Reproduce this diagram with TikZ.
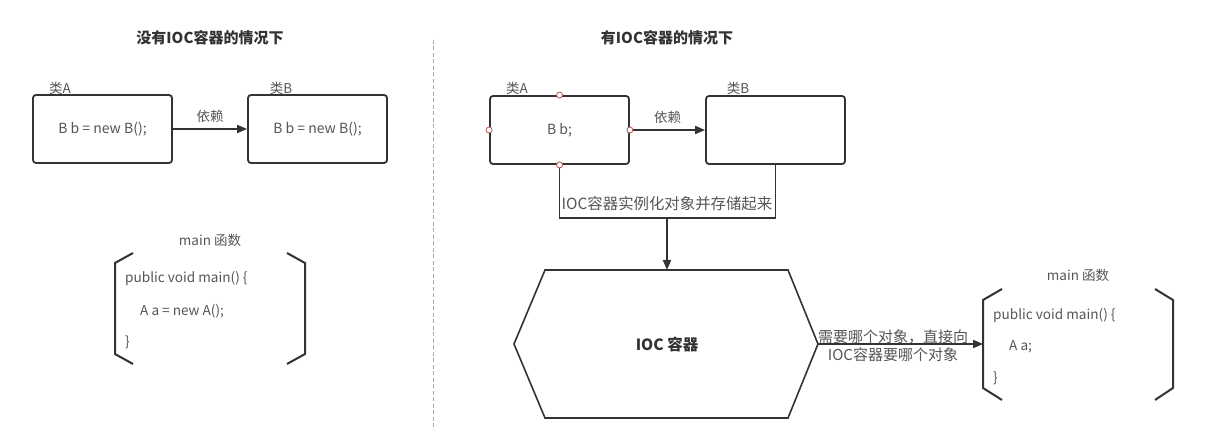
\documentclass[tikz,border=0pt]{standalone}
\usepackage{fontspec}
\setmainfont{Noto Sans CJK SC}
\usetikzlibrary{arrows.meta}
\definecolor{ink}{HTML}{333333}
\definecolor{txt}{HTML}{555555}
\definecolor{port}{HTML}{B85450}
\definecolor{divider}{HTML}{AAAAAA}
\begin{document}
\begin{tikzpicture}[x=1pt,y=-1pt,
  cls/.style={draw=ink,line width=1.8pt,rounded corners=3pt,fill=white,
    minimum width=139pt,minimum height=68pt,inner sep=0pt,
    font=\fontsize{14}{16}\selectfont,text=txt},
  tag/.style={inner sep=0pt,font=\fontsize{13.5}{15}\selectfont,text=txt},
  code/.style={inner sep=0pt,anchor=west,font=\fontsize{13.6}{15}\selectfont,text=txt},
  title/.style={inner sep=0pt,font=\fontsize{15}{17}\selectfont\bfseries,text=ink},
  edgelabel/.style={inner sep=0pt,font=\fontsize{15}{18}\selectfont,text=txt,align=center},
  link/.style={draw=ink,line width=1.8pt},
  arrow/.style={link,-{Triangle[length=10pt,width=8pt]}},
  bracket/.style={draw=ink,line width=2pt},
  portmark/.style={circle,draw=port,fill=white,line width=0.8pt,minimum size=6pt,inner sep=0pt},
]
\useasboundingbox (0,0) rectangle (1213,435);

% ---------- left half: without a container ----------
\node[title] (t1) at (210,38) {没有IOC容器的情况下};

\node[cls] (a1) at (102.5,129) {B b = new B();};
\node[cls] (b1) at (317.5,129) {B b = new B();};
\node[tag] (la1) at (60,88) {类A};
\node[tag] (lb1) at (281,88) {类B};
\draw[arrow] (a1.east) -- (b1.west) node[midway,tag,yshift=13pt] (d1) {依赖};

\node[tag] (m1) at (210,240) {main 函数};
\draw[bracket] (133,253) -- (115,263) -- (115,354) -- (133,364);
\draw[bracket] (287,253) -- (305,263) -- (305,354) -- (287,364);
\node[code] (c11) at (125,278) {public void main() \{};
\node[code] (c12) at (140,311) {A a = new A();};
\node[code] (c13) at (125,342) {\}};

% ---------- divider ----------
\coordinate (dtop) at (433,40);
\coordinate (dbot) at (433,430);
\draw[divider,line width=1pt,dash pattern=on 4pt off 2.5pt] (dtop) -- (dbot);

% ---------- right half: with a container ----------
\node[title] (t2) at (667,38) {有IOC容器的情况下};

\node[cls] (a2) at (559.5,130) {B b;};
\node[cls] (b2) at (775.5,130) {};
\node[tag] (la2) at (517,88) {类A};
\node[tag] (lb2) at (738,88) {类B};
\draw[arrow] (a2.east) -- (b2.west) node[midway,tag,yshift=13pt] (d2) {依赖};

% container hexagon
\coordinate (h1) at (545,270);
\coordinate (h2) at (788,270);
\coordinate (h3) at (818,344);
\coordinate (h4) at (788,418);
\coordinate (h5) at (545,418);
\coordinate (h6) at (514,344);
\draw[link,line width=1.6pt,line join=miter] (h1) -- (h2) -- (h3) -- (h4) -- (h5) -- (h6) -- cycle;
\node[inner sep=0pt,font=\fontsize{15.5}{17}\selectfont\bfseries,text=ink] (ioc) at (667,345) {IOC 容器};
\coordinate (htop) at (667,270);

% registration of both classes
\coordinate (join) at (667,218);
\draw[link] (a2.south) |- (join) -| (b2.south);
\draw[arrow] (join) -- (htop);
\node[edgelabel,font=\fontsize{15.4}{18}\selectfont] (reg) at (667,204) {IOC容器实例化对象并存储起来};

% ports on class A
\node[portmark] (p1) at (a2.north) {};
\node[portmark] (p2) at (a2.west) {};
\node[portmark] (p3) at (a2.east) {};
\node[portmark] (p4) at (a2.south) {};

% main function on the right
\node[tag] (m2) at (1078,275) {main 函数};
\draw[bracket] (1002,289) -- (983,300) -- (983,388) -- (1002,400);
\draw[bracket] (1155,289) -- (1173,300) -- (1173,388) -- (1155,400);
\node[code] (c21) at (993,315) {public void main() \{};
\node[code] (c22) at (1009,347) {A a;};
\node[code] (c23) at (993,378) {\}};
\coordinate (mainin) at (983,344);

\draw[arrow] (h3) -- (mainin);
\node[edgelabel] (ask) at (893,346) {需要哪个对象，直接向\\IOC容器要哪个对象};
\end{tikzpicture}
\end{document}
